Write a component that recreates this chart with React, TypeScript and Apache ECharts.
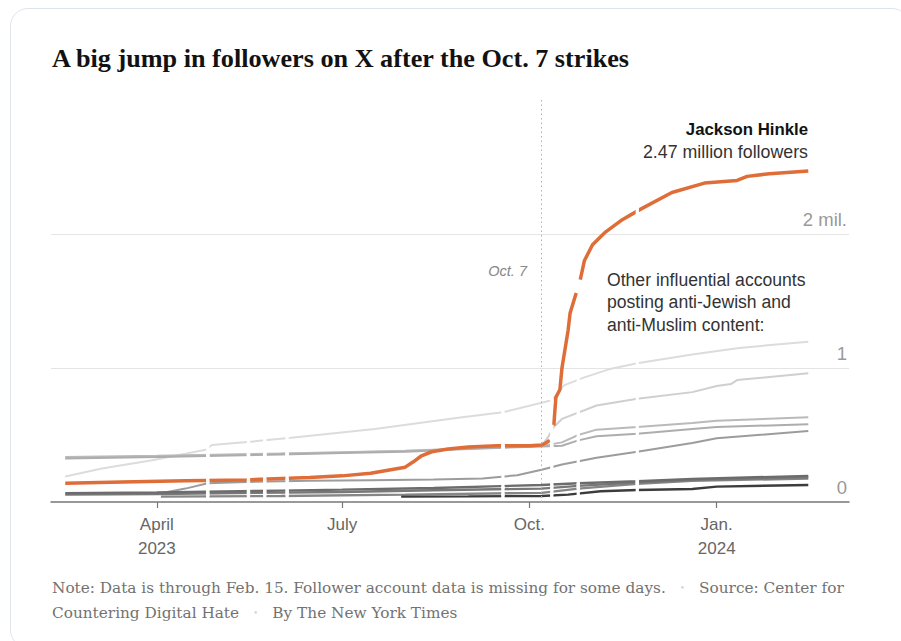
import React, { useEffect, useRef } from "react";
import * as echarts from "echarts";

type Point = [string, number | null];

// ---------- text & axis data ----------
const TITLE = "A big jump in followers on X after the Oct. 7 strikes";
const xStart = "2023-02-08";
const xEnd = "2024-03-06";
const xTickDates = ["2023-04-01", "2023-07-01", "2023-10-01", "2024-01-01"];
const xTickLabels = ["April\n2023", "July", "Oct.", "Jan.\n2024"];
const yTickValues = [0, 1, 2];
const yTickLabels = ["0", "1", "2 mil."];
const strikeDate = "2023-10-07";
const strikeLabel = "Oct. 7";
const hinkleName = "Jackson Hinkle";
const othersLabel = "Other influential accounts\nposting anti-Jewish and\nanti-Muslim content:";
const noteLine1 = ["Note: Data is through Feb. 15. Follower account data is missing for some days.", "Source: Center for"];
const noteLine2 = ["Countering Digital Hate", "By The New York Times"];

// days with no follower data (all accounts)
const missingDays = [
  "2023-04-26", "2023-05-16", "2023-05-24", "2023-06-04",
  "2023-09-18", "2023-10-12", "2023-10-25", "2023-11-23",
];

// ---------- series data (millions of followers) ----------
const hinkle: Point[] = [
  ["2023-02-15", 0.14], ["2023-03-15", 0.15], ["2023-04-15", 0.158], ["2023-05-15", 0.165],
  ["2023-06-15", 0.182], ["2023-07-01", 0.195], ["2023-07-15", 0.215], ["2023-08-01", 0.26],
  ["2023-08-05", 0.3], ["2023-08-09", 0.345], ["2023-08-14", 0.375], ["2023-08-22", 0.395],
  ["2023-09-01", 0.41], ["2023-09-15", 0.42], ["2023-10-01", 0.42], ["2023-10-07", 0.425],
  ["2023-10-09", 0.44], ["2023-10-11", 0.46], ["2023-10-12", null], ["2023-10-13", 0.57],
  ["2023-10-14", 0.78], ["2023-10-16", 0.84], ["2023-10-17", 1.0], ["2023-10-20", 1.28],
  ["2023-10-21", 1.41], ["2023-10-24", 1.56], ["2023-10-25", null], ["2023-10-26", 1.66],
  ["2023-10-28", 1.8], ["2023-11-01", 1.92], ["2023-11-07", 2.01], ["2023-11-15", 2.1],
  ["2023-11-24", 2.18], ["2023-12-10", 2.31], ["2023-12-26", 2.38], ["2024-01-11", 2.4],
  ["2024-01-16", 2.43], ["2024-01-27", 2.45], ["2024-02-15", 2.47],
];

const otherA: Point[] = [
  ["2023-02-15", 0.19], ["2023-03-05", 0.25], ["2023-03-29", 0.31], ["2023-04-15", 0.36],
  ["2023-04-25", 0.39], ["2023-04-28", 0.425], ["2023-05-17", 0.45], ["2023-06-06", 0.48],
  ["2023-07-17", 0.545], ["2023-08-28", 0.63], ["2023-09-18", 0.67], ["2023-10-07", 0.74],
  ["2023-10-12", 0.76], ["2023-10-18", 0.87], ["2023-10-28", 0.93], ["2023-11-09", 0.99],
  ["2023-11-23", 1.035], ["2023-12-20", 1.1], ["2024-01-12", 1.15], ["2024-02-15", 1.196],
];
const otherB: Point[] = [
  ["2023-02-15", 0.33], ["2023-04-01", 0.34], ["2023-06-01", 0.36], ["2023-07-01", 0.37],
  ["2023-08-01", 0.38], ["2023-09-01", 0.4], ["2023-10-07", 0.42], ["2023-10-10", 0.48],
  ["2023-10-13", 0.56], ["2023-10-17", 0.62], ["2023-11-03", 0.72], ["2023-11-23", 0.77],
  ["2023-12-20", 0.82], ["2024-01-01", 0.865], ["2024-01-08", 0.88], ["2024-01-11", 0.91],
  ["2024-02-15", 0.96],
];
const otherC: Point[] = [
  ["2023-02-15", 0.335], ["2023-04-01", 0.345], ["2023-06-01", 0.362], ["2023-07-01", 0.372],
  ["2023-08-01", 0.382], ["2023-09-01", 0.4], ["2023-10-07", 0.418], ["2023-10-17", 0.445],
  ["2023-10-25", 0.5], ["2023-11-03", 0.54], ["2023-11-23", 0.56], ["2023-12-20", 0.59],
  ["2024-01-01", 0.607], ["2024-02-15", 0.632],
];
const otherD: Point[] = [
  ["2023-02-15", 0.325], ["2023-04-01", 0.335], ["2023-06-01", 0.355], ["2023-07-01", 0.365],
  ["2023-08-01", 0.375], ["2023-09-01", 0.395], ["2023-10-07", 0.415], ["2023-10-17", 0.42],
  ["2023-10-25", 0.46], ["2023-11-03", 0.49], ["2023-11-23", 0.51], ["2023-12-20", 0.545],
  ["2024-01-01", 0.56], ["2024-02-15", 0.58],
];
const otherE: Point[] = [
  ["2023-04-03", 0.065], ["2023-04-15", 0.1], ["2023-04-26", 0.14], ["2023-05-15", 0.15],
  ["2023-06-15", 0.158], ["2023-07-15", 0.163], ["2023-08-15", 0.168], ["2023-09-08", 0.175],
  ["2023-09-25", 0.2], ["2023-10-07", 0.24], ["2023-10-17", 0.28], ["2023-11-03", 0.33],
  ["2023-11-23", 0.375], ["2023-12-20", 0.44], ["2024-01-01", 0.475], ["2024-02-15", 0.53],
];
const otherF1: Point[] = [
  ["2023-02-15", 0.066], ["2023-04-01", 0.072], ["2023-06-01", 0.085], ["2023-07-01", 0.092],
  ["2023-08-15", 0.105], ["2023-10-07", 0.127], ["2023-10-25", 0.14], ["2023-11-23", 0.155],
  ["2023-12-20", 0.172], ["2024-02-15", 0.195],
];
const otherF2: Point[] = [
  ["2023-02-15", 0.055], ["2023-04-01", 0.06], ["2023-07-01", 0.075], ["2023-08-15", 0.088],
  ["2023-10-07", 0.1], ["2023-10-25", 0.12], ["2023-11-23", 0.145], ["2023-12-20", 0.165],
  ["2024-02-15", 0.185],
];
const otherF3: Point[] = [
  ["2023-04-03", 0.04], ["2023-06-01", 0.045], ["2023-08-01", 0.055], ["2023-10-07", 0.068],
  ["2023-10-25", 0.1], ["2023-11-23", 0.135], ["2023-12-20", 0.158], ["2024-02-15", 0.175],
];
const otherG: Point[] = [
  ["2023-07-30", 0.04], ["2023-09-01", 0.042], ["2023-10-07", 0.045], ["2023-10-20", 0.055],
  ["2023-11-05", 0.08], ["2023-11-23", 0.09], ["2023-12-20", 0.097], ["2024-01-01", 0.115],
  ["2024-02-15", 0.127],
];

const otherAccounts = [otherA, otherB, otherC, otherD, otherE, otherF3, otherF2, otherF1, otherG];

// ---------- styles ----------
const otherColors = ["#dcdcdc", "#cfcfcf", "#bababa", "#adadad", "#9c9c9c", "#868686", "#787878", "#6c6c6c", "#3c3c3c"];
const otherWidths = [2, 2, 2, 2, 2, 2.4, 2.4, 2.4, 2.4];
const HINKLE_COLOR = "#df6d37";
const SANS = "'Liberation Sans', Arial, sans-serif";
const SERIF = "'Liberation Serif', 'Times New Roman', serif";
const NOTE_SERIF = "'DejaVu Serif', serif";

const DAY = 86400000;
const GAP_HALF = 0.8 * DAY;
const ts = (d: string) => Date.parse(d);
const toData = (pts: Point[]) => pts.map(([d, v]) => [ts(d), v]);

function valueAt(pts: Point[], t: number): number | null {
  for (let i = 0; i < pts.length - 1; i++) {
    const t0 = ts(pts[i][0]);
    const t1 = ts(pts[i + 1][0]);
    if (t >= t0 && t <= t1) {
      const v0 = pts[i][1];
      const v1 = pts[i + 1][1];
      if (v0 == null || v1 == null) return null;
      return v0 + ((v1 - v0) * (t - t0)) / (t1 - t0);
    }
  }
  return null;
}

// white breaks where the data is missing
const maskData: number[][] = [];
missingDays.forEach((d) => {
  const t = ts(d);
  [...otherAccounts, hinkle].forEach((pts) => {
    const a = valueAt(pts, t - GAP_HALF);
    const b = valueAt(pts, t + GAP_HALF);
    if (a == null || b == null) return;
    maskData.push([t, Math.min(a, b), Math.max(a, b)]);
  });
});

const xTickValues = xTickDates.map(ts);

function buildOption(): any {
  const lastHinkle = hinkle[hinkle.length - 1][1];
  const noteRich = {
    t: { fill: "#727272", fontFamily: NOTE_SERIF, fontSize: 15.3 },
    d: { fill: "#d4d4d4", fontFamily: NOTE_SERIF, fontSize: 9, padding: [0, 14, 0, 14] },
  };
  return {
    animation: false,
    grid: { left: 51, right: 52, top: 100, bottom: 139, containLabel: false, outerBoundsMode: "none" },
    tooltip: { show: false },
    xAxis: {
      type: "value",
      min: ts(xStart),
      max: ts(xEnd),
      axisLine: { show: true, onZero: false, lineStyle: { color: "#777", width: 1.5 } },
      axisTick: { show: true, customValues: xTickValues, length: 6, lineStyle: { color: "#777", width: 1.2 } },
      axisLabel: {
        customValues: xTickValues,
        formatter: (v: number) => {
          const i = xTickValues.indexOf(v);
          return i >= 0 ? xTickLabels[i] : "";
        },
        color: "#666",
        fontFamily: SANS,
        fontSize: 17,
        lineHeight: 24,
        margin: 10,
      },
      splitLine: { show: false },
    },
    yAxis: {
      type: "value",
      min: 0,
      max: 3,
      interval: 1,
      position: "right",
      axisLine: { show: false },
      axisTick: { show: false },
      splitLine: { show: true, showMinLine: false, showMaxLine: false, lineStyle: { color: "#e4e4e4", width: 1 } },
      axisLabel: {
        inside: true,
        margin: 2,
        verticalAlign: "bottom",
        padding: [0, 0, 5, 0],
        lineHeight: 20,
        color: "#999",
        fontFamily: SANS,
        fontSize: 18.5,
        formatter: (v: number) => {
          const i = yTickValues.indexOf(v);
          return i >= 0 ? yTickLabels[i] : "";
        },
      },
    },
    graphic: [
      {
        type: "text", x: 52, y: 58,
        style: { text: TITLE, fill: "#121212", fontFamily: SERIF, fontWeight: "bold", fontSize: 26.2, verticalAlign: "middle" },
      },
      {
        type: "text", x: 808, y: 129,
        style: { text: hinkleName, fill: "#121212", fontFamily: SANS, fontWeight: "bold", fontSize: 16.8, align: "right", verticalAlign: "middle" },
      },
      {
        type: "text", x: 808, y: 152,
        style: { text: `${lastHinkle} million followers`, fill: "#333", fontFamily: SANS, fontSize: 17.8, align: "right", verticalAlign: "middle" },
      },
      {
        type: "text", x: 527, y: 271,
        style: { text: strikeLabel, fill: "#888", fontFamily: SANS, fontStyle: "italic", fontSize: 14.5, align: "right", verticalAlign: "middle" },
      },
      {
        type: "text", x: 607, y: 268.5,
        style: { text: othersLabel, fill: "#333", fontFamily: SANS, fontSize: 17.6, lineHeight: 22.5, align: "left", verticalAlign: "top" },
      },
      {
        type: "text", x: 52, y: 588,
        style: { text: `{t|${noteLine1[0]}}{d|•}{t|${noteLine1[1]}}`, verticalAlign: "middle", rich: noteRich },
      },
      {
        type: "text", x: 52, y: 613,
        style: { text: `{t|${noteLine2[0]}}{d|•}{t|${noteLine2[1]}}`, verticalAlign: "middle", rich: noteRich },
      },
    ],
    series: [
      ...otherAccounts.map((pts, i) => ({
        type: "line",
        name: `Other account ${i + 1}`,
        data: toData(pts),
        symbol: "none",
        showSymbol: false,
        connectNulls: false,
        silent: true,
        z: 2,
        lineStyle: { color: otherColors[i], width: otherWidths[i] },
        emphasis: { disabled: true },
      })),
      {
        type: "line",
        name: hinkleName,
        data: toData(hinkle),
        symbol: "none",
        showSymbol: false,
        connectNulls: false,
        silent: true,
        z: 2,
        lineStyle: { color: HINKLE_COLOR, width: 3.5 },
        emphasis: { disabled: true },
        markLine: {
          silent: true,
          symbol: ["none", "none"],
          label: { show: false },
          lineStyle: { color: "#b0b0b0", type: [1.5, 3], width: 1 },
          emphasis: { disabled: true },
          data: [{ xAxis: ts(strikeDate) }],
        },
      },
      {
        type: "custom",
        name: "missing days",
        data: maskData,
        silent: true,
        z: 3,
        encode: { x: 0, y: [1, 2] },
        renderItem: (_params: any, api: any) => {
          const t = api.value(0);
          const lo = api.value(1);
          const hi = api.value(2);
          const p1 = api.coord([t - GAP_HALF, hi]);
          const p2 = api.coord([t + GAP_HALF, lo]);
          return {
            type: "rect",
            shape: { x: p1[0], y: p1[1] - 3, width: p2[0] - p1[0], height: p2[1] - p1[1] + 6 },
            style: { fill: "#ffffff" },
          };
        },
      },
    ],
  };
}

export default function App() {
  const ref = useRef<HTMLDivElement>(null);
  useEffect(() => {
    if (!ref.current) return;
    const chart = echarts.init(ref.current, undefined, { renderer: "svg" });
    chart.setOption(buildOption());
    return () => chart.dispose();
  }, []);
  return (
    <div style={{ position: "fixed", left: 0, top: 0, width: 901, height: 641, background: "#fff", overflow: "hidden" }}>
      <div
        style={{
          position: "absolute", left: 10, top: 8, width: 900, height: 640,
          border: "1.5px solid #dfe4ea", borderRadius: 18, boxSizing: "border-box",
        }}
      />
      <div ref={ref} style={{ position: "absolute", left: 0, top: 0, width: 901, height: 641 }} />
    </div>
  );
}
